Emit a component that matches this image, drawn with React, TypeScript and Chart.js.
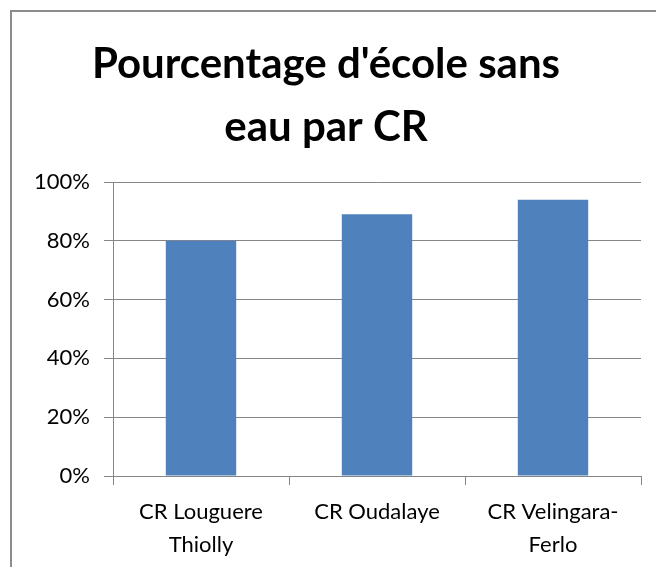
import React, { useEffect, useRef } from "react";
import { Chart, registerables } from "chart.js";

Chart.register(...registerables);

const categories: string[][] = [["CR Louguere", "Thiolly"], ["CR Oudalaye"], ["CR Velingara-", "Ferlo"]];
const values: number[] = [80, 89, 94];
const yTicks: number[] = [0, 20, 40, 60, 80, 100];
const titleLines: string[] = ["Pourcentage d'école sans", "eau par CR"];

const FONT = "Lato, 'Open Sans', sans-serif";
const GRID = "#868686";

const framePlugin = {
  id: "frame",
  beforeDraw(chart: any) {
    const ctx = chart.ctx;
    ctx.save();
    ctx.fillStyle = "#ffffff";
    ctx.fillRect(0, 0, chart.width, chart.height);
    ctx.strokeStyle = "#8c8c8c";
    ctx.lineWidth = 2;
    ctx.strokeRect(11, 11, chart.width + 20, chart.height + 20);
    ctx.restore();
  },
};

export default function App() {
  const ref = useRef<HTMLCanvasElement | null>(null);
  useEffect(() => {
    document.body.style.margin = "0";
    const c = ref.current!;
    const chart = new Chart(c, {
      type: "bar",
      data: {
        labels: categories as any,
        datasets: [
          {
            data: values,
            backgroundColor: "#4F81BD",
            borderWidth: 0,
            categoryPercentage: 1,
            barPercentage: 0.4,
          },
        ],
      },
      options: {
        animation: false,
        responsive: false,
        devicePixelRatio: 1,
        layout: { padding: { left: 11, right: 15, top: 11, bottom: 0 } },
        plugins: {
          legend: { display: false },
          tooltip: { enabled: false },
          title: {
            display: true,
            text: titleLines,
            color: "#000000",
            font: { family: FONT, size: 42, weight: "bold", lineHeight: 1.5 },
            padding: { top: 21.5, bottom: 23.5 },
          },
        },
        scales: {
          x: {
            offset: true,
            grid: {
              offset: true,
              drawOnChartArea: false,
              drawTicks: true,
              tickLength: 9,
              color: GRID,
            },
            border: { display: true, color: GRID, width: 1 },
            ticks: {
              color: "#000000",
              font: { family: FONT, size: 22, lineHeight: 1.5 },
              padding: 10,
              maxRotation: 0,
              autoSkip: false,
            },
            afterFit(s: any) {
              s.height = 91;
            },
          },
          y: {
            min: 0,
            max: 100,
            afterBuildTicks(s: any) {
              s.ticks = yTicks.map((v) => ({ value: v }));
            },
            grid: { color: GRID, tickLength: 9, drawTicks: true },
            border: { display: true, color: GRID, width: 1 },
            ticks: {
              color: "#000000",
              font: { family: FONT, size: 22 },
              padding: 14,
              callback: (v: any) => v + "%",
            },
            afterFit(s: any) {
              s.width = 102;
            },
          },
        },
      },
      plugins: [framePlugin],
    });
    return () => chart.destroy();
  }, []);
  return <canvas ref={ref} width={656} height={567} style={{ display: "block" }} />;
}
